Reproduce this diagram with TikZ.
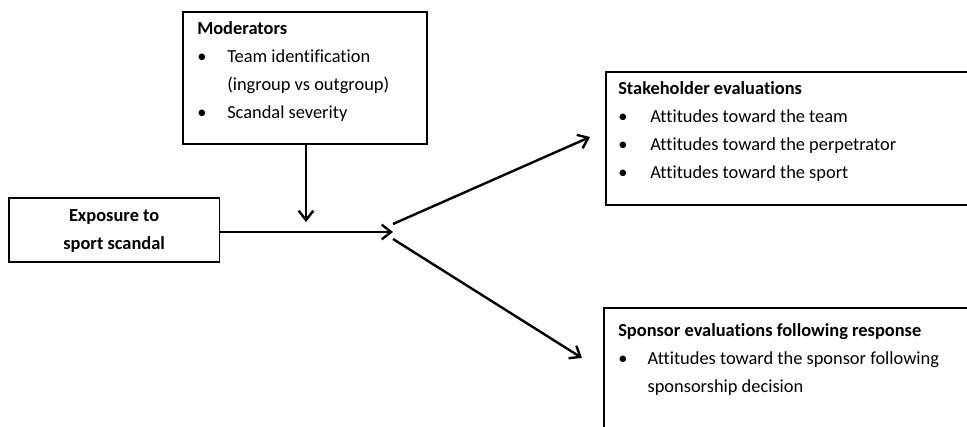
\documentclass[tikz,border=0pt]{standalone}
\usepackage{fontspec}
\setmainfont[Ligatures=NoCommon]{Carlito}
\usepackage{tikz}
\usetikzlibrary{positioning,calc}
\usetikzlibrary{arrows.meta}
\tikzstyle{riquadro} = [rectangle, draw=black, line width=1.2pt, inner sep=0pt, anchor=north west]
\tikzstyle{testo} = [anchor=base west, inner sep=0pt, font=\fontsize{13.8}{21}\selectfont]
\tikzstyle{freccia} = [line width=1.8pt, -{Straight Barb[length=7pt,width=11pt]}]

\begin{document}
\begin{tikzpicture}[x=0.75pt,y=-0.75pt]
\useasboundingbox (0,0) rectangle (967,427);
\clip (0,0) rectangle (967,427);
% riquadri
\node (mod) at (182,11) [riquadro, minimum width=183pt, minimum height=99pt] {};
\node (esp) at (8,197) [riquadro, minimum width=158pt, minimum height=48pt] {};
\node (sta) at (605,71) [riquadro, minimum width=300pt, minimum height=100pt] {};
\node (spo) at (603,307) [riquadro, minimum width=300pt, minimum height=120pt] {};
% testi
\node (tmod) at (197,35) [testo] {\begin{tabular}[t]{@{}p{22.5pt}@{}l@{}}
\multicolumn{2}{@{}l@{}}{\textbf{Moderators}}\\
\textbullet & Team identification\\
 & (ingroup vs outgroup)\\
\textbullet & Scandal severity
\end{tabular}};
\node (tesp) at ([yshift=-1pt]esp.center) [font=\fontsize{13.8}{21}\selectfont\bfseries, align=center] {Exposure to\\sport scandal};
\node (tsta) at (618,95) [testo] {\begin{tabular}[t]{@{}p{24pt}@{}l@{}}
\multicolumn{2}{@{}l@{}}{\textbf{Stakeholder evaluations}}\\
\textbullet & Attitudes toward the team\\
\textbullet & Attitudes toward the perpetrator\\
\textbullet & Attitudes toward the sport
\end{tabular}};
\node (tspo) at (618,337) [testo] {\begin{tabular}[t]{@{}p{22pt}@{}l@{}}
\multicolumn{2}{@{}l@{}}{\textbf{Sponsor evaluations following response}}\\
\textbullet & Attitudes toward the sponsor following\\
 & sponsorship decision
\end{tabular}};
% frecce
\coordinate (punta) at (306,222);
\coordinate (nodo) at (393,232);
\coordinate (su0) at (393,224);
\coordinate (su1) at (590,137);
\coordinate (giu0) at (393,239);
\coordinate (giu1) at (582,358);
\draw[freccia] (mod.south -| punta) -- (punta);
\draw[freccia] (esp.east |- nodo) -- (nodo);
\draw[freccia] (su0) -- (su1);
\draw[freccia] (giu0) -- (giu1);
\end{tikzpicture}
\end{document}
